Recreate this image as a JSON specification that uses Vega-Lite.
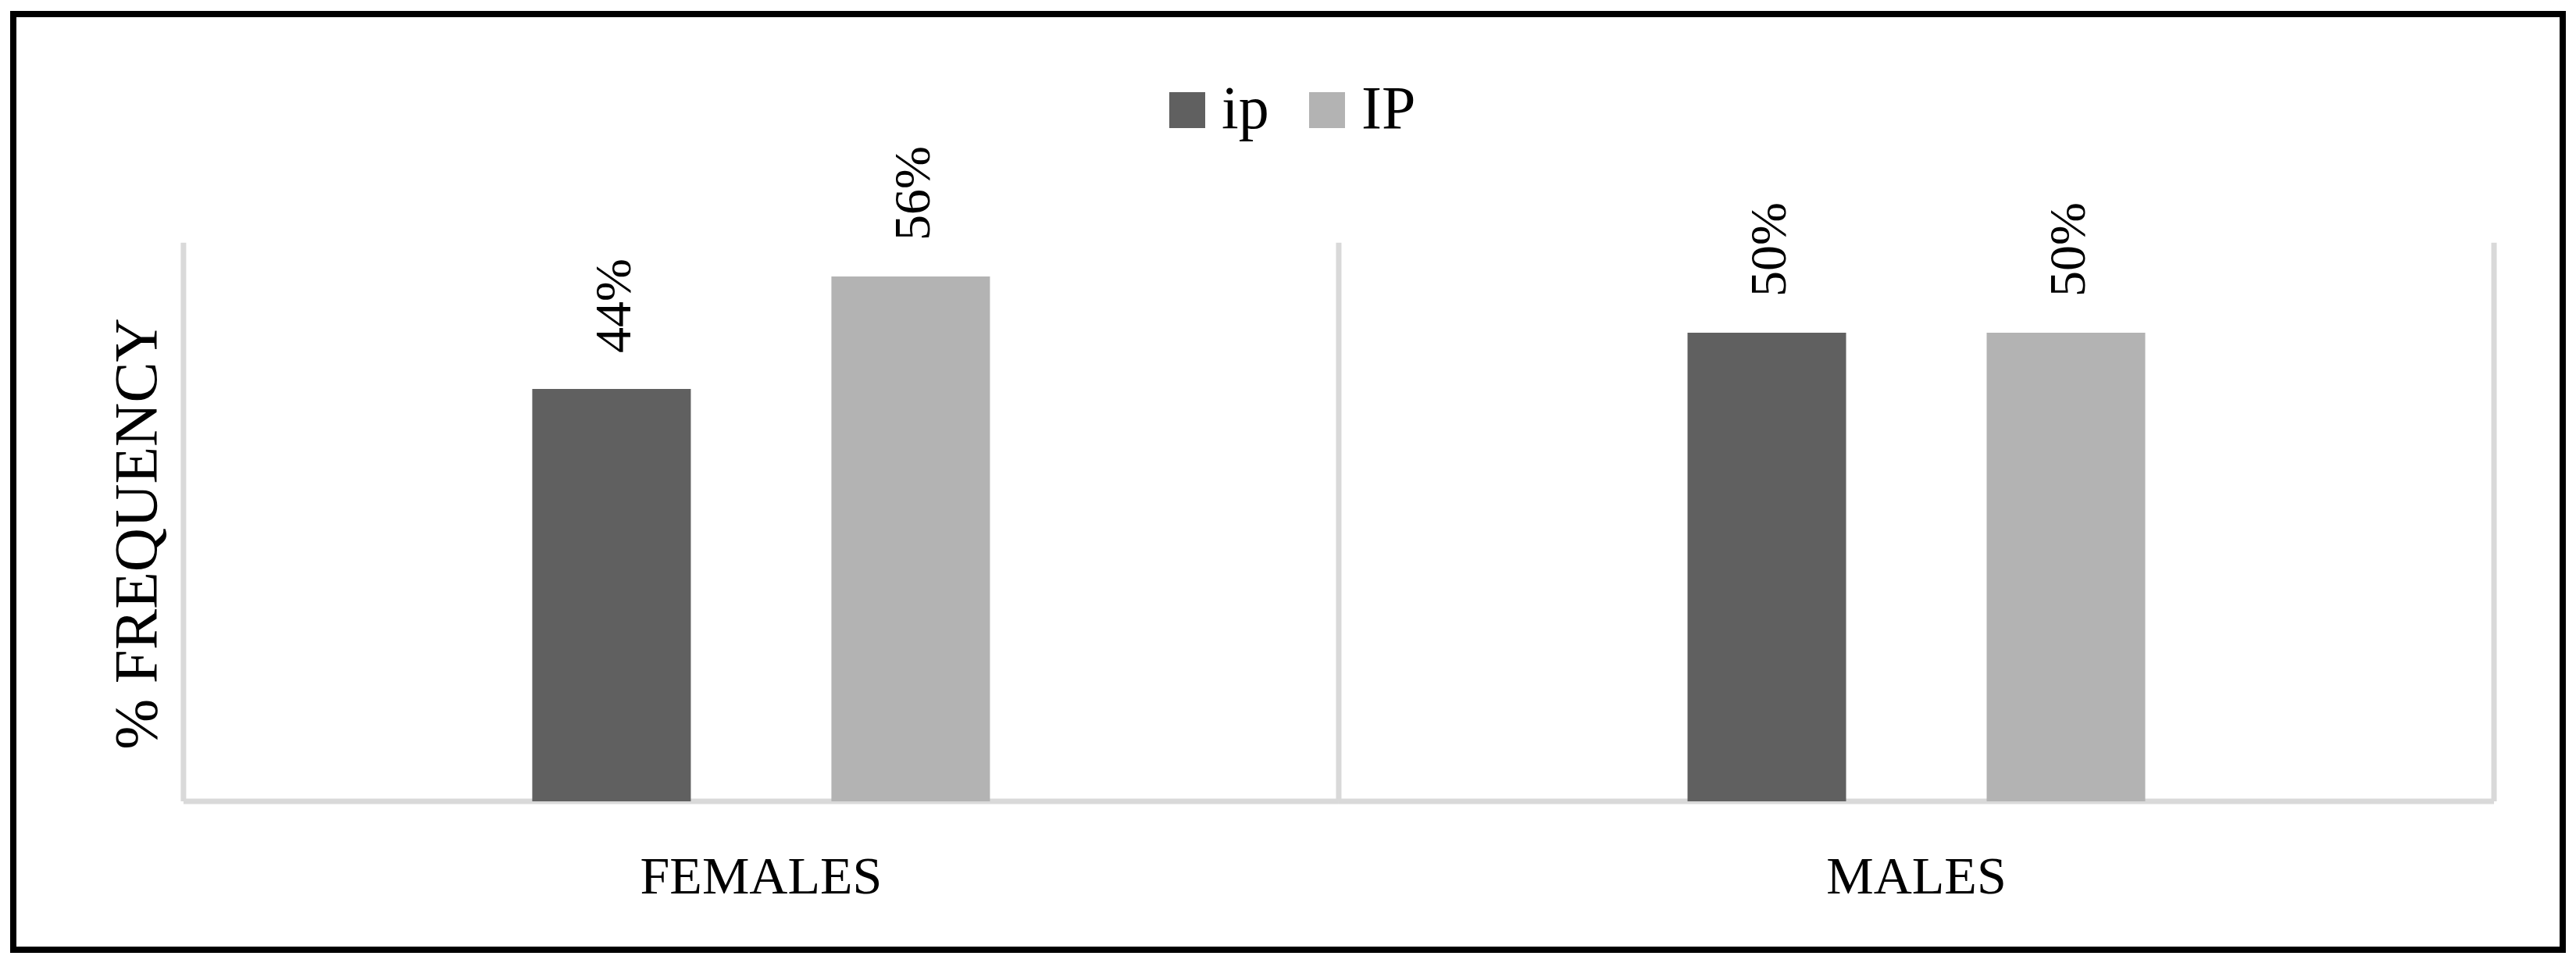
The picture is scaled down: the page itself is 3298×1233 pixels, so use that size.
{
  "$schema": "https://vega.github.io/schema/vega-lite/v6.json",
  "width": 3264,
  "height": 1198,
  "autosize": {"type": "none"},
  "padding": {"left": 17, "top": 18, "right": 17, "bottom": 17},
  "background": "white",
  "config": {
    "view": {"stroke": "#000000", "strokeWidth": 8},
    "font": "Liberation Serif"
  },
  "encoding": {
    "x": {
      "field": "sex",
      "type": "nominal",
      "sort": ["FEMALES", "MALES"],
      "scale": {"domain": ["FEMALES", "MALES"], "paddingInner": 0, "paddingOuter": 0.1034, "align": 0.7124},
      "axis": {
        "orient": "bottom",
        "title": null,
        "domain": false,
        "ticks": false,
        "tickSize": 0,
        "grid": false,
        "labelAngle": 0,
        "labelPadding": 0,
        "labelLimit": 0,
        "offset": -73,
        "labelBaseline": "alphabetic",
        "labelFontSize": 68,
        "labelFont": "Liberation Serif",
        "labelColor": "#000000"
      }
    }
  },
  "layer": [
    {
      "data": {"values": [{"sex": "FEMALES"}, {"sex": "MALES"}]},
      "mark": {"type": "rule", "color": "#d9d9d9", "strokeWidth": 7},
      "encoding": {
        "x": {"field": "sex", "type": "nominal", "bandPosition": 0},
        "y": {"datum": 0, "type": "quantitative"},
        "y2": {"datum": 0.596}
      }
    },
    {
      "data": {"values": [{"sex": "MALES"}]},
      "mark": {"type": "rule", "color": "#d9d9d9", "strokeWidth": 7},
      "encoding": {
        "x": {"field": "sex", "type": "nominal", "bandPosition": 1},
        "y": {"datum": 0, "type": "quantitative"},
        "y2": {"datum": 0.596}
      }
    },
    {
      "data": {"values": [{"sex": "FEMALES"}, {"sex": "MALES"}]},
      "mark": {"type": "rect", "color": "#d9d9d9"},
      "encoding": {
        "y": {"datum": -0.0029, "type": "quantitative"},
        "y2": {"datum": 0.0029}
      }
    },
    {
      "data": {
        "values": [
          {"sex": "FEMALES", "series": "ip", "value": 0.44},
          {"sex": "FEMALES", "series": "IP", "value": 0.56},
          {"sex": "MALES", "series": "ip", "value": 0.50},
          {"sex": "MALES", "series": "IP", "value": 0.50}
        ]
      },
      "layer": [
        {
          "mark": {"type": "bar", "width": 203},
          "encoding": {
            "xOffset": {
              "field": "series",
              "type": "nominal",
              "sort": ["ip", "IP"],
              "scale": {"domain": ["ip", "IP"], "paddingInner": 0, "paddingOuter": 0.931}
            },
            "y": {
              "field": "value",
              "type": "quantitative",
              "scale": {"domain": [-0.1583, 0.84], "nice": false, "zero": false},
              "axis": {
                "domain": false,
                "ticks": false,
                "labels": false,
                "grid": false,
                "title": "% FREQUENCY",
                "titleFontSize": 78,
                "titleFont": "Liberation Serif",
                "titleFontWeight": "normal",
                "titleColor": "#000000",
                "titleAngle": 270,
                "titleAlign": "center",
                "titleBaseline": "alphabetic",
                "titleX": 182,
                "titleY": 665
              }
            },
            "color": {
              "field": "series",
              "type": "nominal",
              "sort": ["ip", "IP"],
              "scale": {"domain": ["ip", "IP"], "range": ["#606060", "#b3b3b3"]},
              "legend": {
                "orient": "none",
                "legendX": 1464,
                "legendY": 84,
                "direction": "horizontal",
                "title": null,
                "symbolType": "square",
                "symbolSize": 2116,
                "symbolStrokeWidth": 0,
                "symbolOpacity": 1,
                "labelFontSize": 78,
                "labelFont": "Liberation Serif",
                "labelColor": "#000000",
                "labelOffset": 5,
                "columnPadding": 35,
                "padding": 0
              }
            }
          }
        },
        {
          "mark": {
            "type": "text",
            "angle": 270,
            "align": "left",
            "baseline": "alphabetic",
            "dx": 46,
            "dy": 24,
            "fontSize": 66,
            "font": "Liberation Serif",
            "color": "#000000"
          },
          "encoding": {
            "xOffset": {"field": "series", "type": "nominal", "sort": ["ip", "IP"]},
            "y": {"field": "value", "type": "quantitative"},
            "text": {"field": "value", "type": "quantitative", "format": ".0%"}
          }
        }
      ]
    }
  ]
}
